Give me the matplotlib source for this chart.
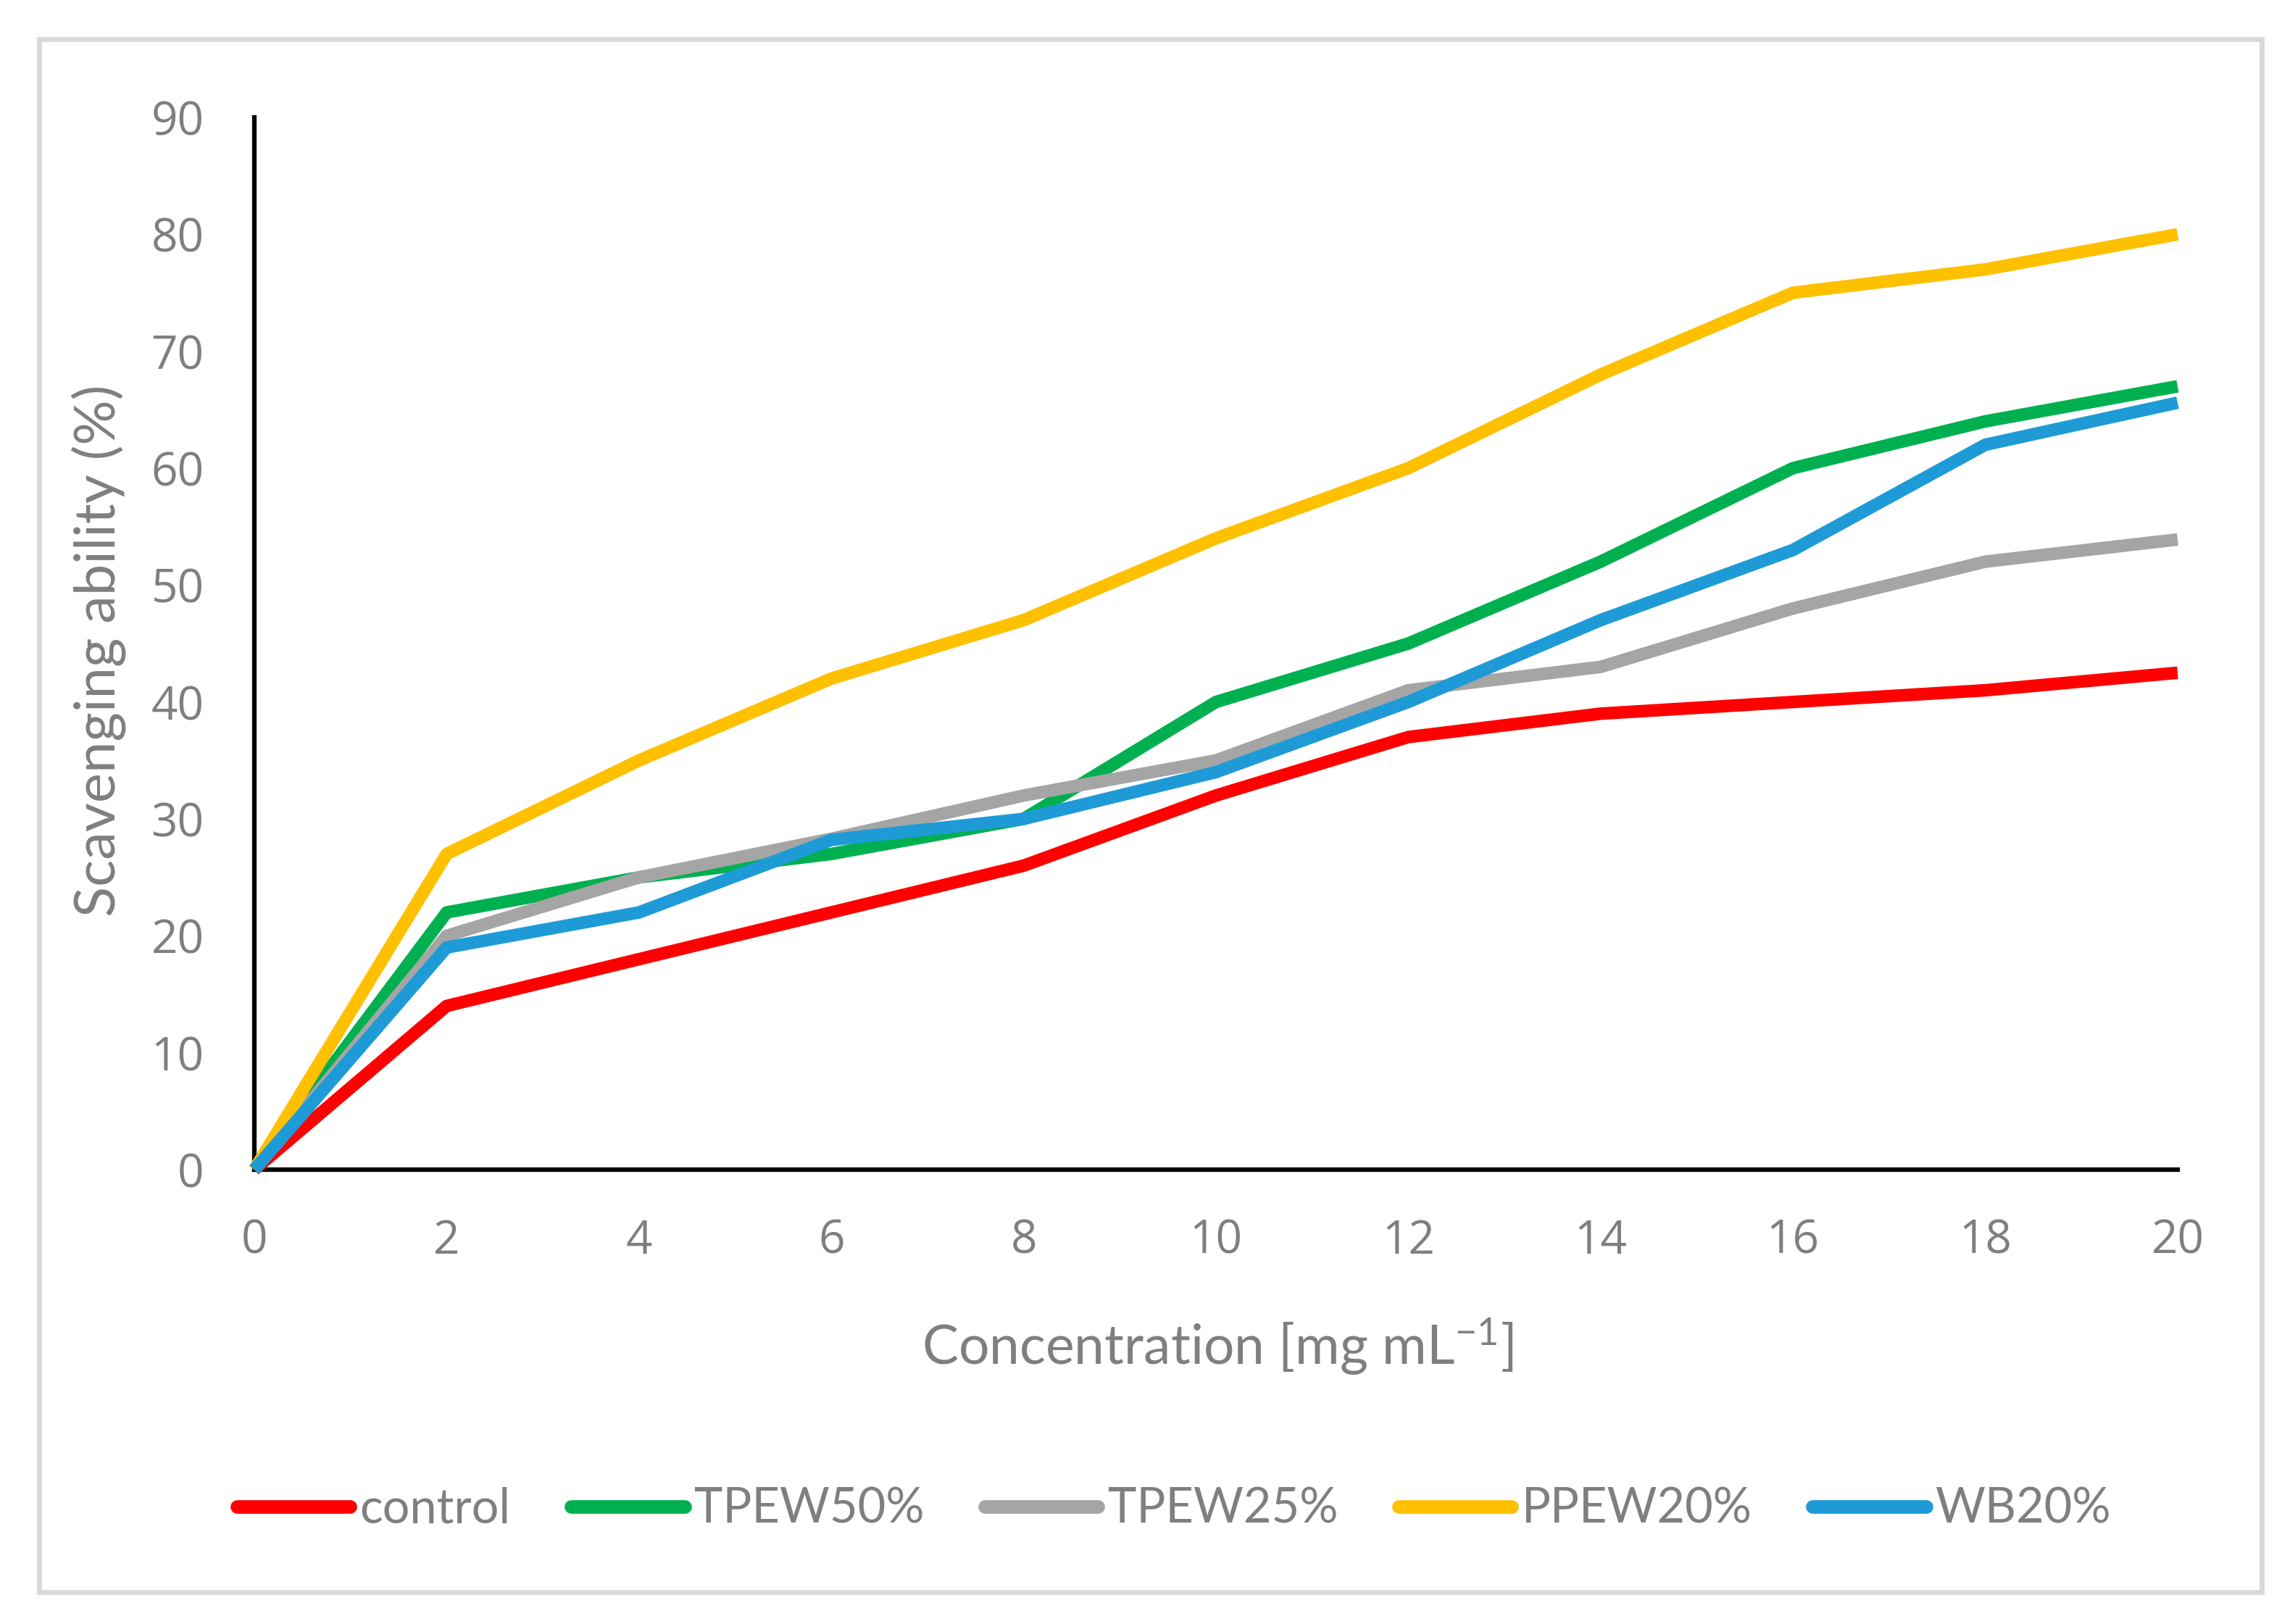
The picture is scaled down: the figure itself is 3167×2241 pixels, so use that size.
import matplotlib
matplotlib.use("Agg")
import matplotlib.pyplot as plt
from matplotlib.patches import Rectangle

# ---- data ----
concentration = [0, 2, 4, 6, 8, 10, 12, 14, 16, 18, 20]
control  = [0, 14, 18, 22, 26, 32, 37, 39, 40, 41, 42.5]
tpew50   = [0, 22, 25, 27, 30, 40, 45, 52, 60, 64, 67]
tpew25   = [0, 20, 25, 28.3, 32, 35, 41, 43, 48, 52, 53.9]
ppew20   = [0, 27, 35, 42, 47, 54, 60, 68, 75, 77, 80]
wb20     = [0, 19, 22, 28.2, 30, 34, 40, 47, 53, 62, 65.6]
series_names = ["control", "TPEW50%", "TPEW25%", "PPEW20%", "WB20%"]
series_values = [control, tpew50, tpew25, ppew20, wb20]
series_colors = ["#FF0000", "#00B050", "#A5A5A5", "#FFC000", "#1E9BD7"]
x_ticks = [0, 2, 4, 6, 8, 10, 12, 14, 16, 18, 20]
y_ticks = [0, 10, 20, 30, 40, 50, 60, 70, 80, 90]

plt.rcParams['mathtext.fontset'] = 'custom'
plt.rcParams['mathtext.rm'] = 'Lato'
plt.rcParams['mathtext.it'] = 'Lato'

W, H, DPI = 3167, 2241, 100
fig = plt.figure(figsize=(W / DPI, H / DPI), dpi=DPI)
fig.patch.set_facecolor("white")

gray_text = "#7F7F7F"

# outer border
fig.patches.append(Rectangle((53.5 / W, 1 - 2196.5 / H), (3120.5 - 53.5) / W, (2196.5 - 54) / H,
                             transform=fig.transFigure, fill=False, edgecolor="#D9D9D9",
                             linewidth=5.0, zorder=0))

left, right = 351 / W, 3005 / W
bottom, top = 1 - 1614 / H, 1 - 162 / H
ax = fig.add_axes([left, bottom, right - left, top - bottom])

lw = 12.5
for name, vals, col in zip(series_names, series_values, series_colors):
    ax.plot(concentration, vals, color=col, linewidth=lw, label=name,
            solid_capstyle='butt', solid_joinstyle='round', clip_on=False, zorder=3)

ax.set_xlim(0, 20)
ax.set_ylim(0, 90)
ax.set_xticks(x_ticks)
ax.set_yticks(y_ticks)
ax.set_xticklabels([str(v) for v in x_ticks])
ax.set_yticklabels([str(v) for v in y_ticks])
for s in ["top", "right"]:
    ax.spines[s].set_visible(False)
for s in ["left", "bottom"]:
    ax.spines[s].set_color("black")
    ax.spines[s].set_linewidth(4.5)
    ax.spines[s].set_zorder(2.5)
ax.tick_params(axis='both', length=0, labelsize=46, labelcolor=gray_text)
ax.tick_params(axis='y', pad=50)
ax.tick_params(axis='x', pad=48)
for lab in ax.get_xticklabels() + ax.get_yticklabels():
    lab.set_family("Open Sans")

fig.text(1680 / W, 1 - 1883 / H, "Concentration [mg mL$^{-1}$]", ha='center', va='baseline',
         fontsize=54, color=gray_text, family="Lato")
fig.text(136 / W, 1 - 898 / H, "Scavenging ability (%)", ha='center', va='center',
         rotation=90, fontsize=56, color=gray_text, family="Lato")

leg = fig.legend(loc='center', bbox_to_anchor=(1620 / W, 1 - 2083 / H), ncol=5, frameon=False,
                 prop={'family': 'Lato', 'size': 48}, handlelength=2.35, handletextpad=0.2,
                 columnspacing=1.25, borderaxespad=0)
for t in leg.get_texts():
    t.set_color(gray_text)
for ln in leg.get_lines():
    ln.set_solid_capstyle('round')
    ln.set_linewidth(13.5)

fig.savefig("out.png", dpi=DPI, facecolor="white")
